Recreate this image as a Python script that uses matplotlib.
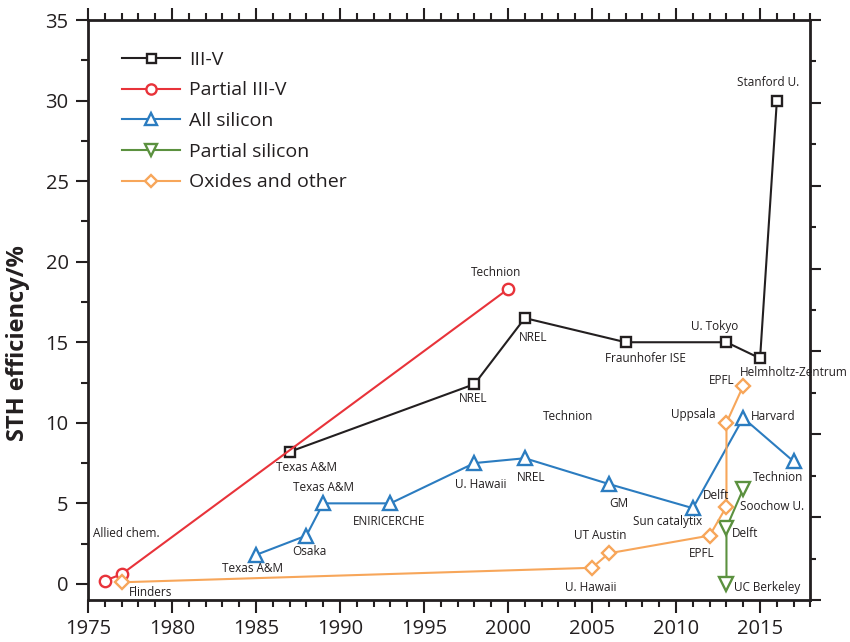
import matplotlib.pyplot as plt
from matplotlib.ticker import MultipleLocator

plt.rcParams["font.family"] = ["Open Sans", "DejaVu Sans"]

# solar-to-hydrogen efficiency records by device family
III_V_YEARS = [1987, 1998, 2001, 2007, 2013, 2015, 2016]
III_V_STH = [8.2, 12.4, 16.5, 15.0, 15.0, 14.0, 30.0]

PARTIAL_III_V_YEARS = [1976, 1977, 2000]
PARTIAL_III_V_STH = [0.2, 0.6, 18.3]

ALL_SI_YEARS = [1985, 1988, 1989, 1993, 1998, 2001, 2006, 2011, 2014, 2017]
ALL_SI_STH = [1.8, 3.0, 5.0, 5.0, 7.5, 7.8, 6.2, 4.7, 10.3, 7.6]

PARTIAL_SI_YEARS = [2013, 2013, 2014]
PARTIAL_SI_STH = [0.0, 3.5, 5.9]

OXIDE_YEARS = [1977, 2005, 2006, 2012, 2013, 2013, 2014]
OXIDE_STH = [0.1, 1.0, 1.9, 3.0, 4.8, 10.0, 12.3]

# group names and where they sit on the chart
NOTES = [
    ("Stanford U.", 2015.5, 31.1),
    ("Technion", 1999.3, 19.3),
    ("NREL", 2001.5, 15.3),
    ("U. Tokyo", 2012.3, 16.0),
    ("Fraunhofer ISE", 2008.2, 14.0),
    ("NREL", 1997.9, 11.5),
    ("Helmholtz-Zentrum", 2017.0, 13.1),
    ("EPFL", 2012.7, 12.6),
    ("Uppsala", 2011.0, 10.5),
    ("Harvard", 2015.8, 10.4),
    ("Technion", 2003.6, 10.4),
    ("U. Hawaii", 1998.4, 6.2),
    ("NREL", 2001.4, 6.6),
    ("GM", 2006.6, 5.0),
    ("Technion", 2016.1, 6.6),
    ("Delft", 2012.4, 5.5),
    ("Soochow U.", 2015.7, 4.8),
    ("Sun catalytix", 2009.5, 3.85),
    ("Delft", 2014.1, 3.1),
    ("UT Austin", 2005.5, 3.0),
    ("EPFL", 2011.5, 1.9),
    ("U. Hawaii", 2004.9, -0.2),
    ("UC Berkeley", 2015.4, -0.2),
    ("Texas A&M", 1988.0, 7.2),
    ("Texas A&M", 1989.0, 6.0),
    ("ENIRICERCHE", 1992.9, 3.9),
    ("Osaka", 1988.2, 2.0),
    ("Texas A&M", 1984.8, 0.95),
    ("Allied chem.", 1977.3, 3.1),
    ("Flinders", 1978.7, -0.55),
]

INK = "#231f20"
SERIES = [
    ("III-V", III_V_YEARS, III_V_STH, INK, "s", 7.2),
    ("Partial III-V", PARTIAL_III_V_YEARS, PARTIAL_III_V_STH, "#e8333a", "o", 8.2),
    ("All silicon", ALL_SI_YEARS, ALL_SI_STH, "#2b7cc0", "^", 10.0),
    ("Partial silicon", PARTIAL_SI_YEARS, PARTIAL_SI_STH, "#5b913f", "v", 10.0),
    ("Oxides and other", OXIDE_YEARS, OXIDE_STH, "#f7a65a", "D", 7.0),
]

fig = plt.figure(figsize=(8.5, 6.42), dpi=100)
ax = fig.add_axes([0.1035, 0.0654, 0.850, 0.9034])

for name, years, sth, color, marker, size in SERIES:
    ax.plot(
        years,
        sth,
        color=color,
        linewidth=1.5,
        marker=marker,
        markersize=size,
        markerfacecolor="white",
        markeredgecolor=color,
        markeredgewidth=1.7,
        label=name,
        clip_on=False,
        zorder=3,
    )

for text, x, y in NOTES:
    ax.text(x, y, text, ha="center", va="center", fontsize=8.5, color=INK, zorder=4)

ax.set_xlim(1975, 2018)
ax.set_ylim(-1, 35)
ax.xaxis.set_major_locator(MultipleLocator(5))
ax.xaxis.set_minor_locator(MultipleLocator(1))
ax.yaxis.set_minor_locator(MultipleLocator(2.5))
ax.set_yticks(range(0, 36, 5))
ax.tick_params(axis="both", which="both", direction="out", width=1.5, color=INK,
               labelsize=14.5, labelcolor=INK)
ax.tick_params(axis="x", which="both", top=True, pad=5)
ax.tick_params(axis="y", pad=5)
ax.tick_params(which="major", length=9)
ax.tick_params(which="minor", length=4.8)
for spine in ax.spines.values():
    spine.set_linewidth(2.0)
    spine.set_color(INK)

# right-hand scale runs 0-35 over the full frame height
ax_r = ax.twinx()
ax_r.set_ylim(0, 35)
ax_r.yaxis.set_major_locator(MultipleLocator(5))
ax_r.yaxis.set_minor_locator(MultipleLocator(2.5))
ax_r.tick_params(axis="y", which="both", direction="out", width=1.5, color=INK,
                 labelright=False)
ax_r.tick_params(which="major", length=8)
ax_r.tick_params(which="minor", length=4.5)
for spine in ax_r.spines.values():
    spine.set_visible(False)

ax.set_ylabel("STH efficiency/%", fontsize=17, fontweight="bold", color=INK, va="center")
ax.yaxis.set_label_coords(-0.097, 0.443)

ax.legend(
    loc="upper left",
    bbox_to_anchor=(0.047, 0.947),
    frameon=False,
    fontsize=14,
    borderpad=0,
    borderaxespad=0,
    handlelength=3.0,
    handletextpad=0.45,
    labelspacing=0.65,
    markerscale=0.9,
    labelcolor=INK,
)

fig.savefig("out.png", dpi=100)
